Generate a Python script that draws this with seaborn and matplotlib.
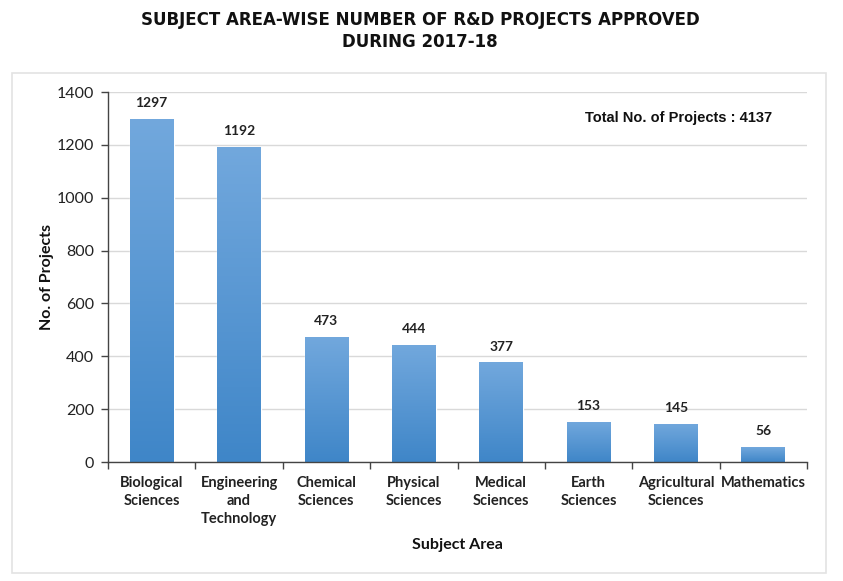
import matplotlib
matplotlib.use("Agg")
import matplotlib.pyplot as plt
import seaborn as sns
import numpy as np
import pandas as pd
from matplotlib.patches import Rectangle
from matplotlib.colors import LinearSegmentedColormap

categories = ["Biological\nSciences", "Engineering\nand\nTechnology", "Chemical\nSciences",
              "Physical\nSciences", "Medical\nSciences", "Earth\nSciences",
              "Agricultural\nSciences", "Mathematics"]
projects = [1297, 1192, 473, 444, 377, 153, 145, 56]
yticks = [0, 200, 400, 600, 800, 1000, 1200, 1400]

df = pd.DataFrame({"Subject Area": categories, "Projects": projects})

sns.set_theme(style="white")
plt.rcParams['font.family'] = ['Lato', 'DejaVu Sans']

fig = plt.figure(figsize=(8.43, 5.81), dpi=100)
ax = fig.add_axes([108/843, 1-462/581, (807-108)/843, (462-92)/581])

sns.barplot(data=df, x="Subject Area", y="Projects", color="#5b9bd5", width=0.5,
            ax=ax, saturation=1)

# gradient fill on bars
cmap = LinearSegmentedColormap.from_list("g", ["#3f86c8", "#72a8dd"])
grad = np.linspace(0, 1, 256).reshape(-1, 1)
for p in list(ax.patches):
    x0, y0 = p.get_x(), p.get_y()
    w, h = p.get_width(), p.get_height()
    im = ax.imshow(grad, cmap=cmap, origin="lower", aspect="auto",
                   extent=[x0, x0 + w, y0, y0 + h], zorder=p.get_zorder() + 0.1)
    im.set_clip_path(p)

ax.set_xlim(-0.5, len(categories) - 0.5)
ax.set_ylim(0, 1400)
ax.set_yticks(yticks)
ax.set_yticklabels([str(v) for v in yticks], fontsize=11.5, color="#222222")
ax.yaxis.grid(True, color="#d9d9d9", linewidth=1)
ax.set_axisbelow(True)

ax.set_xticks(range(len(categories)))
ax.set_xticklabels(categories, fontsize=10.5, fontweight="bold", color="#222222",
                   linespacing=1.35)
ax.set_xticks(np.arange(-0.5, len(categories), 1.0), minor=True)
ax.tick_params(axis="x", which="major", length=0, pad=10)
ax.tick_params(axis="x", which="minor", length=5, width=1, color="#444444", direction="out", bottom=True)
ax.tick_params(axis="y", length=5, width=1, color="#444444", direction="out", left=True, pad=5)

for s in ["top", "right"]:
    ax.spines[s].set_visible(False)
for s in ["left", "bottom"]:
    ax.spines[s].set_color("#444444")
    ax.spines[s].set_linewidth(1)

for i, v in enumerate(projects):
    ax.annotate(str(v), (i, v), xytext=(0, 7), textcoords="offset points",
                ha="center", va="bottom", fontsize=10, fontweight="bold", color="#222222")

ax.set_ylabel("No. of Projects", fontsize=11.5, fontweight="bold", color="#111111", labelpad=2)
ax.set_xlabel("Subject Area", fontsize=11.5, fontweight="bold", color="#111111", labelpad=9)

ax.text(0.95, 0.93, "Total No. of Projects : 4137", transform=ax.transAxes, ha="right",
        va="center", fontsize=10.5, fontweight="bold", family=["Liberation Sans"], color="#111111")

fig.text(420/843, 1-31/581, "SUBJECT AREA-WISE NUMBER OF R&D PROJECTS APPROVED\nDURING 2017-18",
         ha="center", va="center", fontsize=12, fontweight="bold", family=["DejaVu Sans"],
         linespacing=1.3, color="#111111")

fig.patches.append(Rectangle((12/843, 1-573/581), (826-12)/843, (573-73)/581,
                             transform=fig.transFigure, fill=False, edgecolor="#e3e3e3",
                             linewidth=1.2))

fig.savefig("out.png", dpi=100)
